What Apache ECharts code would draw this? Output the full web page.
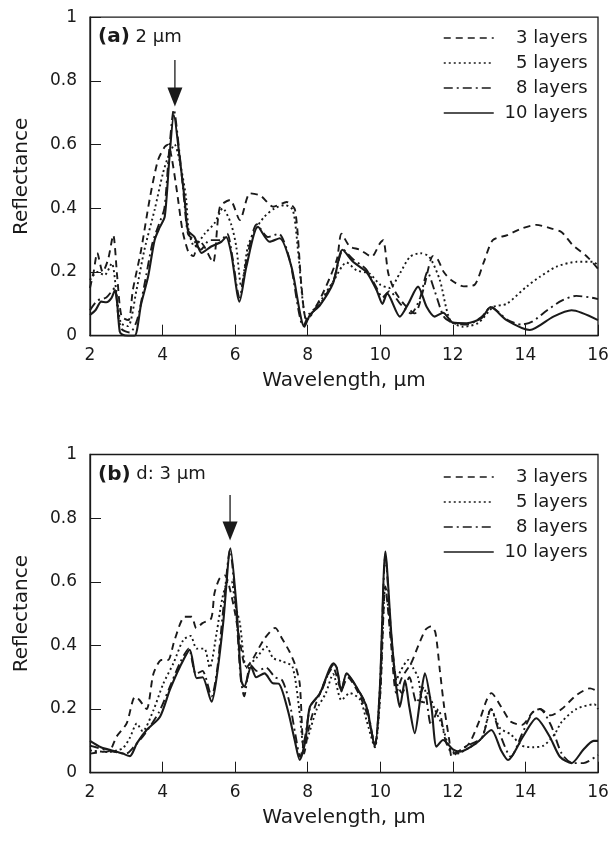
<!DOCTYPE html>
<html><head><meta charset="utf-8">
<script src="https://cdn.jsdelivr.net/npm/echarts@6/dist/echarts.min.js"></script>
<style>html,body{margin:0;padding:0;background:#fff}#c{width:612px;height:845px}</style>
</head><body><div id="c"></div>
<script>
// ---- data (wavelength µm, reflectance) ----
const seriesNames = ['3 layers', '5 layers', '8 layers', '10 layers'];
const xTicks = [2, 4, 6, 8, 10, 12, 14, 16];
const yTicks = [0, 0.2, 0.4, 0.6, 0.8, 1];

// Panel (a): 2 µm
const a3 = [[2.0,0.15],[2.1,0.2],[2.2,0.26],[2.35,0.2],[2.5,0.24],[2.64,0.316],[2.75,0.185],[2.87,0.06],[3.06,0.049],[3.18,0.143],[3.41,0.27],[3.64,0.426],[3.87,0.55],[4.06,0.593],[4.15,0.60],[4.25,0.56],[4.4,0.45],[4.55,0.33],[4.72,0.26],[4.85,0.25],[5.0,0.30],[5.15,0.28],[5.39,0.23],[5.58,0.405],[5.86,0.426],[6.13,0.363],[6.41,0.447],[6.7,0.44],[7.05,0.405],[7.42,0.42],[7.65,0.395],[7.83,0.154],[7.97,0.05],[8.34,0.115],[8.8,0.238],[8.93,0.32],[9.16,0.28],[9.44,0.27],[9.76,0.248],[9.99,0.29],[10.08,0.30],[10.22,0.196],[10.4,0.14],[10.65,0.10],[10.95,0.07],[11.2,0.15],[11.45,0.25],[11.58,0.24],[11.75,0.2],[11.95,0.175],[12.3,0.155],[12.6,0.16],[12.85,0.23],[13.1,0.3],[13.5,0.316],[13.9,0.337],[14.3,0.348],[14.7,0.337],[15.0,0.325],[15.3,0.285],[15.7,0.248],[16.0,0.21]];
const a5 = [[2.0,0.175],[2.2,0.2],[2.4,0.19],[2.6,0.227],[2.73,0.134],[2.85,0.04],[3.05,0.03],[3.28,0.143],[3.5,0.27],[3.78,0.395],[4.01,0.51],[4.15,0.56],[4.33,0.60],[4.52,0.52],[4.65,0.43],[4.72,0.33],[4.88,0.28],[5.16,0.32],[5.43,0.353],[5.66,0.40],[5.89,0.35],[6.03,0.28],[6.17,0.154],[6.35,0.28],[6.54,0.33],[6.81,0.374],[7.09,0.40],[7.37,0.41],[7.59,0.395],[7.73,0.27],[7.87,0.10],[7.97,0.05],[8.3,0.1],[8.7,0.17],[9.07,0.23],[9.35,0.205],[9.7,0.195],[10.0,0.16],[10.26,0.15],[10.54,0.196],[10.82,0.248],[11.1,0.259],[11.35,0.248],[11.64,0.175],[11.92,0.05],[12.28,0.028],[12.7,0.04],[13.11,0.09],[13.48,0.10],[14.03,0.154],[14.4,0.185],[14.86,0.217],[15.41,0.232],[15.87,0.232],[16.0,0.22]];
const a8 = [[2.0,0.08],[2.2,0.11],[2.45,0.12],[2.68,0.15],[2.78,0.06],[2.88,0.02],[3.1,0.01],[3.3,0.05],[3.5,0.16],[3.72,0.29],[3.9,0.35],[4.05,0.40],[4.18,0.58],[4.31,0.71],[4.46,0.58],[4.6,0.42],[4.7,0.32],[4.86,0.3],[5.05,0.27],[5.3,0.3],[5.6,0.3],[5.78,0.32],[5.92,0.25],[6.12,0.12],[6.3,0.23],[6.6,0.35],[6.9,0.31],[7.2,0.32],[7.5,0.24],[7.88,0.03],[8.05,0.07],[8.34,0.1],[8.7,0.17],[8.98,0.27],[9.25,0.24],[9.6,0.21],[9.9,0.15],[10.06,0.12],[10.25,0.14],[10.55,0.1],[10.85,0.07],[11.1,0.12],[11.3,0.2],[11.5,0.14],[11.75,0.06],[12.0,0.04],[12.4,0.035],[12.8,0.06],[13.05,0.09],[13.5,0.05],[13.9,0.035],[14.2,0.045],[14.6,0.08],[15.0,0.11],[15.4,0.125],[15.8,0.12],[16.0,0.115]];
const a10 = [[2.0,0.065],[2.15,0.08],[2.31,0.107],[2.45,0.105],[2.59,0.118],[2.69,0.143],[2.75,0.10],[2.82,0.013],[2.9,0.003],[3.05,0.0],[3.23,0.0],[3.41,0.10],[3.6,0.185],[3.78,0.30],[3.92,0.34],[4.06,0.374],[4.19,0.56],[4.31,0.693],[4.47,0.56],[4.61,0.426],[4.70,0.33],[4.88,0.31],[5.07,0.26],[5.34,0.28],[5.62,0.295],[5.75,0.31],[5.89,0.26],[6.12,0.107],[6.31,0.217],[6.63,0.342],[6.95,0.295],[7.23,0.306],[7.55,0.217],[7.91,0.028],[8.06,0.065],[8.34,0.096],[8.70,0.165],[8.96,0.27],[9.25,0.232],[9.62,0.20],[9.90,0.143],[10.06,0.10],[10.19,0.133],[10.54,0.06],[10.77,0.10],[11.04,0.154],[11.28,0.09],[11.50,0.06],[11.73,0.072],[12.0,0.041],[12.38,0.039],[12.79,0.055],[13.04,0.09],[13.48,0.049],[14.12,0.018],[14.77,0.06],[15.27,0.08],[16.0,0.049]];

// Panel (b): d = 3 µm
const b3 = [[2.0,0.06],[2.3,0.065],[2.55,0.07],[2.73,0.113],[3.01,0.155],[3.24,0.239],[3.35,0.23],[3.56,0.2],[3.75,0.312],[3.97,0.354],[4.15,0.354],[4.33,0.417],[4.61,0.49],[4.8,0.49],[4.93,0.454],[5.1,0.47],[5.34,0.485],[5.43,0.564],[5.57,0.61],[5.72,0.62],[5.85,0.58],[6.0,0.5],[6.12,0.42],[6.3,0.33],[6.5,0.36],[6.8,0.42],[7.1,0.455],[7.3,0.42],[7.5,0.38],[7.65,0.34],[7.78,0.28],[7.9,0.06],[8.05,0.15],[8.3,0.24],[8.7,0.33],[8.93,0.26],[9.1,0.3],[9.4,0.25],[9.65,0.18],[9.85,0.09],[10.0,0.25],[10.14,0.585],[10.3,0.4],[10.44,0.25],[10.6,0.3],[10.85,0.344],[11.05,0.4],[11.25,0.45],[11.4,0.46],[11.52,0.44],[11.64,0.323],[11.76,0.207],[11.9,0.103],[11.97,0.05],[12.15,0.066],[12.45,0.092],[12.74,0.166],[12.93,0.228],[13.06,0.25],[13.33,0.207],[13.6,0.16],[13.9,0.15],[14.2,0.19],[14.4,0.2],[14.7,0.18],[15.0,0.2],[15.41,0.244],[15.78,0.265],[16.0,0.255]];
const b5 = [[2.0,0.07],[2.5,0.065],[2.9,0.077],[3.1,0.11],[3.29,0.155],[3.45,0.13],[3.75,0.197],[4.02,0.28],[4.3,0.344],[4.57,0.417],[4.77,0.43],[4.94,0.39],[5.15,0.39],[5.3,0.33],[5.49,0.44],[5.65,0.55],[5.8,0.6],[5.9,0.6],[6.0,0.53],[6.13,0.47],[6.31,0.333],[6.58,0.36],[6.86,0.396],[7.05,0.36],[7.3,0.35],[7.58,0.333],[7.79,0.176],[7.88,0.09],[7.97,0.1],[8.24,0.197],[8.5,0.25],[8.7,0.31],[8.93,0.228],[9.16,0.25],[9.44,0.23],[9.62,0.165],[9.85,0.08],[10.0,0.25],[10.14,0.585],[10.3,0.43],[10.44,0.29],[10.56,0.32],[10.77,0.354],[10.9,0.33],[11.04,0.3],[11.18,0.215],[11.3,0.25],[11.5,0.2],[11.7,0.15],[11.9,0.08],[12.1,0.06],[12.4,0.075],[12.8,0.11],[13.05,0.2],[13.3,0.14],[13.6,0.12],[13.9,0.085],[14.2,0.08],[14.5,0.085],[14.8,0.12],[15.0,0.16],[15.4,0.2],[15.9,0.215],[16.0,0.2]];
const b8 = [[2.0,0.085],[2.5,0.07],[3.0,0.06],[3.2,0.08],[3.5,0.12],[3.9,0.19],[4.2,0.27],[4.5,0.35],[4.72,0.39],[4.92,0.31],[5.1,0.32],[5.35,0.24],[5.5,0.32],[5.66,0.5],[5.86,0.7],[6.02,0.52],[6.15,0.3],[6.25,0.24],[6.42,0.34],[6.6,0.32],[6.85,0.33],[7.1,0.3],[7.3,0.29],[7.5,0.22],[7.66,0.12],[7.79,0.05],[7.94,0.12],[8.08,0.21],[8.35,0.25],[8.72,0.34],[8.8,0.33],[8.93,0.26],[9.07,0.31],[9.34,0.27],[9.62,0.21],[9.85,0.085],[9.99,0.27],[10.14,0.68],[10.31,0.42],[10.44,0.29],[10.6,0.25],[10.8,0.3],[11.0,0.22],[11.2,0.27],[11.4,0.15],[11.6,0.2],[11.8,0.1],[12.0,0.06],[12.4,0.085],[12.8,0.11],[13.05,0.2],[13.3,0.12],[13.6,0.05],[13.9,0.12],[14.2,0.19],[14.4,0.2],[14.7,0.15],[15.0,0.06],[15.3,0.03],[15.6,0.03],[16.0,0.056]];
const b10 = [[2.0,0.10],[2.3,0.08],[2.6,0.07],[2.9,0.06],[3.1,0.052],[3.29,0.092],[3.56,0.134],[3.93,0.176],[4.2,0.26],[4.48,0.333],[4.75,0.386],[4.94,0.297],[5.1,0.30],[5.35,0.223],[5.49,0.30],[5.67,0.47],[5.87,0.705],[6.03,0.532],[6.17,0.29],[6.25,0.27],[6.44,0.333],[6.58,0.30],[6.81,0.312],[7.04,0.281],[7.2,0.28],[7.45,0.197],[7.64,0.103],[7.78,0.04],[7.94,0.103],[8.06,0.207],[8.34,0.25],[8.71,0.344],[8.8,0.33],[8.93,0.255],[9.07,0.312],[9.34,0.27],[9.62,0.207],[9.85,0.082],[9.99,0.27],[10.14,0.695],[10.31,0.427],[10.44,0.27],[10.54,0.207],[10.68,0.29],[10.8,0.207],[10.95,0.124],[11.1,0.23],[11.23,0.312],[11.41,0.207],[11.55,0.082],[11.73,0.103],[12.0,0.073],[12.19,0.066],[12.64,0.092],[13.06,0.134],[13.33,0.07],[13.52,0.04],[13.93,0.113],[14.3,0.171],[14.67,0.113],[14.95,0.05],[15.27,0.03],[15.6,0.073],[15.88,0.1],[16.0,0.1]];

// annotations: panel labels and arrow positions (data coords)
const panelTags = ['(a)', '(b)'];
const panelNotes = ['2 µm', 'd: 3 µm'];
const arrowX = [4.34, 5.86];
const arrowTipY = [0.72, 0.73];
const arrowTopY = [0.866, 0.873];

// ---- styles ----
const INK = '#1a1a1a';
const FONT = 'DejaVu Sans';
const dashes = { '3 layers': [7, 5], '5 layers': [2, 3], '8 layers': [9, 4, 2, 4], '10 layers': 'solid' };
const panels = [[a3, a5, a8, a10], [b3, b5, b8, b10]];

const chart = echarts.init(document.getElementById('c'), null, { renderer: 'canvas' });

const grids = [
  { left: 90, top: 17.2, width: 508, height: 318.5 },
  { left: 90, top: 454.5, width: 508, height: 318.2 }
];

function xAxisFor(i) {
  return {
    type: 'value', gridIndex: i, min: xTicks[0], max: xTicks[xTicks.length - 1], interval: 2,
    name: 'Wavelength, µm', nameLocation: 'middle', nameGap: 35,
    nameTextStyle: { fontFamily: FONT, fontSize: 20, color: INK },
    axisLine: { show: true, onZero: false, lineStyle: { color: INK, width: 1.3 } },
    axisTick: { show: true, inside: true, length: 11, lineStyle: { color: INK, width: 1 } },
    axisLabel: { margin: 11, fontFamily: FONT, fontSize: 17, color: INK },
    splitLine: { show: false }
  };
}
function yAxisFor(i) {
  return {
    type: 'value', gridIndex: i, min: yTicks[0], max: yTicks[yTicks.length - 1], interval: 0.2,
    name: 'Reflectance', nameLocation: 'middle', nameGap: 58,
    nameTextStyle: { fontFamily: FONT, fontSize: 20, color: INK },
    axisLine: { show: true, onZero: false, lineStyle: { color: INK, width: 1.3 } },
    axisTick: { show: true, inside: true, length: 11, lineStyle: { color: INK, width: 1 } },
    axisLabel: { margin: 13, fontFamily: FONT, fontSize: 17, color: INK },
    splitLine: { show: false }
  };
}

const series = [];
panels.forEach((sets, p) => {
  sets.forEach((data, k) => {
    const name = seriesNames[k];
    series.push({
      type: 'line', name: name, xAxisIndex: p, yAxisIndex: p,
      data: data, symbol: 'none', showSymbol: false, smooth: 0.25,
      lineStyle: { color: INK, width: name === '10 layers' ? 2.1 : 1.9, type: dashes[name] },
      itemStyle: { color: INK },
      z: 10 - k
    });
  });
});

function legendFor(top) {
  return {
    data: seriesNames,
    orient: 'vertical', left: 443, top: top, padding: 0,
    itemWidth: 50, itemHeight: 14, itemGap: 7, selectedMode: false,
    itemStyle: { color: 'rgba(0,0,0,0)', borderColor: 'rgba(0,0,0,0)', borderWidth: 0 },
    lineStyle: { width: 1.5 },
    formatter: name => '{r|' + name + '}',
    textStyle: {
      fontFamily: FONT, fontSize: 18, color: INK, lineHeight: 18,
      rich: { r: { fontFamily: FONT, fontSize: 18, color: INK, width: 89, align: 'right', lineHeight: 18 } }
    }
  };
}

chart.setOption({
  animation: false,
  backgroundColor: '#fff',
  grid: grids.map(g => Object.assign({ show: true, borderColor: INK, borderWidth: 1.3, backgroundColor: 'transparent' }, g)),
  xAxis: [xAxisFor(0), xAxisFor(1)],
  yAxis: [yAxisFor(0), yAxisFor(1)],
  legend: [legendFor(29), legendFor(468)],
  series: series
});

// annotations (placed via the axes' own scales)
const graphics = [];
for (let p = 0; p < 2; p++) {
  const tip = chart.convertToPixel({ xAxisIndex: p, yAxisIndex: p }, [arrowX[p], arrowTipY[p]]);
  const top = chart.convertToPixel({ xAxisIndex: p, yAxisIndex: p }, [arrowX[p], arrowTopY[p]]);
  const headH = 19, headW = 15;
  graphics.push({
    type: 'line', silent: true,
    shape: { x1: top[0], y1: top[1], x2: tip[0], y2: tip[1] - headH + 1 },
    style: { stroke: INK, lineWidth: 1.3 }
  });
  graphics.push({
    type: 'polygon', silent: true,
    shape: { points: [[tip[0] - headW / 2, tip[1] - headH], [tip[0] + headW / 2, tip[1] - headH], [tip[0], tip[1]]] },
    style: { fill: INK }
  });
  const g = grids[p];
  graphics.push({
    type: 'text', silent: true, left: g.left + 8, top: g.top + 10,
    style: {
      text: '{b|' + panelTags[p] + '} ' + panelNotes[p],
      fontFamily: FONT, fontSize: 18, fill: INK,
      rich: { b: { fontFamily: FONT, fontSize: 20, fontWeight: 'bold', fill: INK } }
    }
  });
}
chart.setOption({ graphic: graphics });
</script>
</body></html>
